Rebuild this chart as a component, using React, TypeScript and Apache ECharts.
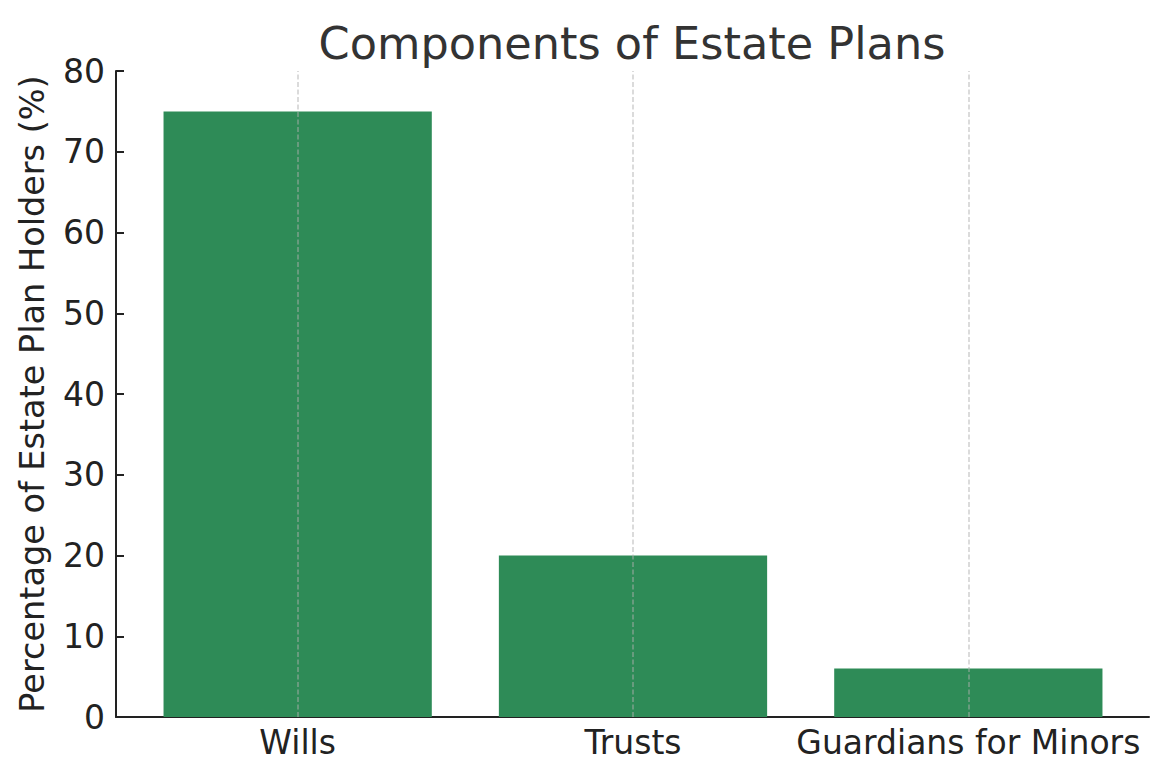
import React, { useEffect, useRef } from 'react'
import * as echarts from 'echarts'

const categories: string[] = ['Wills', 'Trusts', 'Guardians for Minors']
const percentages: number[] = [75, 20, 6]
const yTicks: number[] = [0, 10, 20, 30, 40, 50, 60, 70, 80]

const FONT = 'DejaVu Sans'
const INK = '#222222'

const App: React.FC = () => {
    const chartRef = useRef<HTMLDivElement | null>(null)

    useEffect(() => {
        if (!chartRef.current) return
        const chart = echarts.init(chartRef.current, null, { renderer: 'svg' })

        const yMin = yTicks[0]
        const yMax = yTicks[yTicks.length - 1]
        const yStep = yTicks[1] - yTicks[0]

        const option = {
            animation: false,
            backgroundColor: '#ffffff',
            title: {
                text: 'Components of Estate Plans',
                left: 627,
                textAlign: 'center',
                top: 16,
                textStyle: { fontFamily: FONT, fontSize: 44.6, fontWeight: 'normal', color: '#333333' },
            },
            grid: [
                // outer frame: axis lines and y ticks
                { left: 116, right: 20, top: 71, bottom: 63, outerBoundsMode: 'none', containLabel: false },
                // inner: bars and category labels
                { left: 130, right: 33, top: 71, bottom: 63, outerBoundsMode: 'none', containLabel: false },
            ],
            xAxis: [
                {
                    type: 'value',
                    gridIndex: 0,
                    min: 0,
                    max: 1,
                    axisLine: { show: true, lineStyle: { color: INK, width: 2 } },
                    axisTick: { show: false },
                    axisLabel: { show: false },
                    splitLine: { show: false },
                },
                {
                    type: 'category',
                    gridIndex: 1,
                    data: categories,
                    axisLine: { show: false },
                    axisTick: {
                        show: true,
                        inside: true,
                        alignWithLabel: true,
                        length: 8,
                        lineStyle: { color: INK, width: 2 },
                    },
                    axisLabel: {
                        fontFamily: FONT,
                        fontSize: 33,
                        color: INK,
                        margin: 9,
                        interval: 0,
                        hideOverlap: false,
                    },
                    splitLine: { show: false },
                },
            ],
            yAxis: [
                {
                    type: 'value',
                    gridIndex: 0,
                    min: yMin,
                    max: yMax,
                    interval: yStep,
                    name: 'Percentage of Estate Plan Holders (%)',
                    nameLocation: 'middle',
                    nameGap: 67,
                    nameRotate: 90,
                    nameTextStyle: { fontFamily: FONT, fontSize: 33.5, color: INK },
                    axisLine: { show: true, lineStyle: { color: INK, width: 2 } },
                    axisTick: { show: true, inside: true, length: 8, lineStyle: { color: INK, width: 2 } },
                    axisLabel: { fontFamily: FONT, fontSize: 33, color: INK, margin: 11 },
                    splitLine: { show: false },
                },
                {
                    type: 'value',
                    gridIndex: 1,
                    min: yMin,
                    max: yMax,
                    interval: yStep,
                    show: false,
                },
            ],
            series: [
                {
                    type: 'bar',
                    xAxisIndex: 1,
                    yAxisIndex: 1,
                    data: percentages,
                    barWidth: '80%',
                    itemStyle: { color: '#2E8B57' },
                    markLine: {
                        silent: true,
                        symbol: 'none',
                        label: { show: false },
                        lineStyle: { color: '#b0b0b0', opacity: 0.6, type: [5, 2.5], width: 1.5 },
                        data: categories.map((c) => ({ xAxis: c })),
                        z: 10,
                    },
                },
            ],
        }

        chart.setOption(option as any)

        return () => {
            chart.dispose()
        }
    }, [])

    return (
        <div
            ref={chartRef}
            style={{ position: 'fixed', left: 0, top: 0, width: 1169, height: 780 }}
        />
    )
}

export default App
